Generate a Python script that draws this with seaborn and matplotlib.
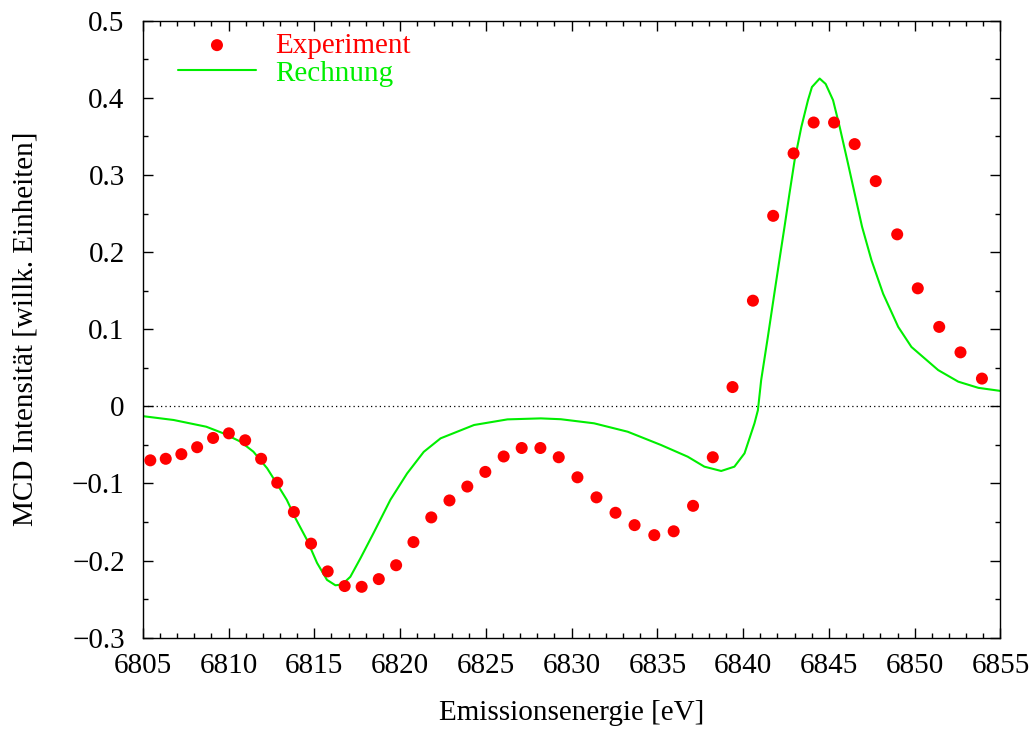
import matplotlib
matplotlib.use("Agg")
import matplotlib.pyplot as plt
from matplotlib.ticker import MultipleLocator, FuncFormatter
import seaborn as sns
import pandas as pd

# Measured MCD spectrum
exp_energy = [6805.44, 6806.34, 6807.25, 6808.17, 6809.10, 6810.02, 6810.97, 6811.90,
              6812.84, 6813.81, 6814.81, 6815.78, 6816.77, 6817.76, 6818.76, 6819.77,
              6820.78, 6821.82, 6822.88, 6823.92, 6824.97, 6826.04, 6827.09, 6828.18,
              6829.25, 6830.34, 6831.45, 6832.56, 6833.67, 6834.82, 6835.95, 6837.08,
              6838.23, 6839.38, 6840.57, 6841.75, 6842.94, 6844.11, 6845.30, 6846.50,
              6847.73, 6848.98, 6850.18, 6851.43, 6852.67, 6853.92]
exp_mcd = [-0.070, -0.068, -0.062, -0.053, -0.041, -0.035, -0.044, -0.068,
           -0.099, -0.137, -0.178, -0.214, -0.233, -0.234, -0.224, -0.206,
           -0.176, -0.144, -0.122, -0.104, -0.085, -0.065, -0.054, -0.054,
           -0.066, -0.092, -0.118, -0.138, -0.154, -0.167, -0.162, -0.129,
           -0.066, 0.025, 0.137, 0.247, 0.328, 0.368, 0.368, 0.340,
           0.292, 0.223, 0.153, 0.103, 0.070, 0.036]

# Calculated MCD spectrum
calc_energy = [6805.0, 6806.8, 6808.7, 6809.7, 6810.7, 6811.45, 6812.25, 6812.8,
               6813.4, 6813.9, 6814.57, 6815.16, 6815.74, 6816.23, 6816.62, 6817.1,
               6817.69, 6818.46, 6819.44, 6820.41, 6821.38, 6822.36, 6824.31, 6826.26,
               6828.2, 6829.37, 6831.31, 6833.27, 6835.21, 6836.77, 6837.74, 6838.72,
               6839.49, 6840.08, 6840.66, 6840.86, 6841.05, 6841.44, 6841.83, 6842.15,
               6842.41, 6842.70, 6843.0, 6843.39, 6843.78, 6844.01, 6844.46, 6844.81,
               6845.24, 6845.63, 6846.07, 6846.50, 6846.93, 6847.48, 6848.16, 6849.04,
               6849.81, 6851.37, 6852.54, 6853.71, 6855.0]
calc_mcd = [-0.0127, -0.0177, -0.0264, -0.0350, -0.0458, -0.0588, -0.0803, -0.0997,
            -0.1214, -0.145, -0.173, -0.203, -0.225, -0.232, -0.231, -0.221,
            -0.197, -0.164, -0.121, -0.087, -0.059, -0.0415, -0.0242, -0.0169,
            -0.0156, -0.0167, -0.022, -0.0329, -0.0501, -0.0653, -0.0782, -0.0838,
            -0.0782, -0.0609, -0.022, -0.005, 0.034, 0.090, 0.148, 0.195,
            0.2326, 0.2759, 0.319, 0.362, 0.397, 0.414, 0.425, 0.418,
            0.397, 0.362, 0.319, 0.276, 0.233, 0.1895, 0.146, 0.103,
            0.077, 0.047, 0.032, 0.024, 0.020]

x_ticks = [6805, 6810, 6815, 6820, 6825, 6830, 6835, 6840, 6845, 6850, 6855]
y_ticks = [-0.3, -0.2, -0.1, 0.0, 0.1, 0.2, 0.3, 0.4, 0.5]

exp_df = pd.DataFrame({"E": exp_energy, "MCD": exp_mcd})
calc_df = pd.DataFrame({"E": calc_energy, "MCD": calc_mcd})

sns.set_theme(style="ticks")
plt.rcParams["font.family"] = ["Liberation Serif", "DejaVu Serif"]
for key in ("text.color", "axes.labelcolor", "xtick.color", "ytick.color",
            "axes.edgecolor"):
    plt.rcParams[key] = "black"

red = "#ff0000"
green = "#00ee00"
fs = 21

fig = plt.figure(figsize=(10.33, 7.29), dpi=100)
ax = fig.add_axes([0.1382, 0.1252, 0.8303, 0.8464])

ax.axhline(0, color="black", lw=0.9, ls=(0, (1, 2.5)), zorder=1)

sns.scatterplot(data=exp_df, x="E", y="MCD", ax=ax, color=red, s=75,
                edgecolor="none", label="Experiment", zorder=3)
sns.lineplot(data=calc_df, x="E", y="MCD", ax=ax, color=green, lw=1.5,
             sort=False, estimator=None, label="Rechnung", zorder=2)

ax.set_xlim(6805, 6855)
ax.set_ylim(-0.3, 0.5)
ax.set_xticks(x_ticks)
ax.set_yticks(y_ticks)
ax.xaxis.set_minor_locator(MultipleLocator(1))
ax.yaxis.set_minor_locator(MultipleLocator(0.05))


def yfmt(v, pos):
    if abs(v) < 1e-9:
        return "0"
    return f"{v:.1f}".replace("-", "\u2212")


ax.yaxis.set_major_formatter(FuncFormatter(yfmt))
ax.tick_params(which="both", direction="in", top=True, right=True,
               colors="black", labelsize=fs, width=1.0)
ax.tick_params(which="major", length=7)
ax.tick_params(which="minor", length=3.5)
ax.tick_params(axis="x", which="major", pad=11)
ax.tick_params(axis="y", which="major", pad=13)
for sp in ax.spines.values():
    sp.set_linewidth(1.0)
    sp.set_color("black")

ax.set_xlabel("Emissionsenergie [eV]", fontsize=fs, labelpad=15)
ax.set_ylabel("MCD Intensität [willk. Einheiten]", fontsize=fs, labelpad=24)

leg = ax.legend(loc="upper left", bbox_to_anchor=(0.027, 1.0), frameon=False,
                fontsize=fs, handlelength=2.7, handletextpad=0.65,
                labelspacing=0.05, borderaxespad=0.0)
for txt, col in zip(leg.get_texts(), [red, green]):
    txt.set_color(col)

fig.savefig("out.png", dpi=100)
